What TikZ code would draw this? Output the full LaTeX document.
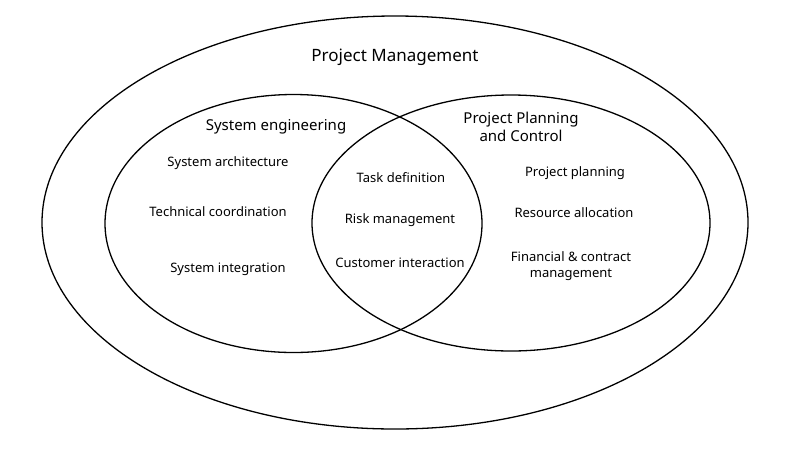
\documentclass[tikz,border=0pt]{standalone}
\usepackage{fontspec}
\setmainfont{Noto Sans}
\begin{document}
\begin{tikzpicture}[x=1pt,y=-1pt,
  setline/.style={draw=black,line width=1.3pt},
  bigtxt/.style={font=\fontsize{17}{20}\selectfont,inner sep=0pt,align=center},
  midtxt/.style={font=\fontsize{15}{18}\selectfont,inner sep=0pt,align=center},
  smalltxt/.style={font=\fontsize{13}{16}\selectfont,inner sep=0pt,align=center}]
\useasboundingbox[fill=white] (0,0) rectangle (800,448);
\coordinate (outerc) at (395,222.5);
\coordinate (sec) at (293.5,223.5);
\coordinate (ppc) at (511,223);
\draw[setline] (outerc) ellipse [x radius=353pt, y radius=206.5pt];
\draw[setline] (sec) ellipse [x radius=188.5pt, y radius=129pt];
\draw[setline] (ppc) ellipse [x radius=199pt, y radius=128pt];
\node[bigtxt] (pm) at (395,57) {Project Management};
\node[midtxt] (se) at (276,127) {System engineering};
\node[midtxt] (ppcl) at (521,126.5) {Project Planning\\and Control};
\node[smalltxt] (sa) at (228,163.5) {System architecture};
\node[smalltxt] (tc) at (218,211.5) {Technical coordination};
\node[smalltxt] (si) at (228,269.5) {System integration};
\node[smalltxt] (td) at (401,177.5) {Task definition};
\node[smalltxt] (rm) at (400,220.5) {Risk management};
\node[smalltxt] (ci) at (400,262.5) {Customer interaction};
\node[smalltxt] (pp) at (575,173.5) {Project planning};
\node[smalltxt] (ra) at (574,212.5) {Resource allocation};
\node[smalltxt] (fc) at (571,266.5) {Financial \& contract\\management};
\end{tikzpicture}
\end{document}
